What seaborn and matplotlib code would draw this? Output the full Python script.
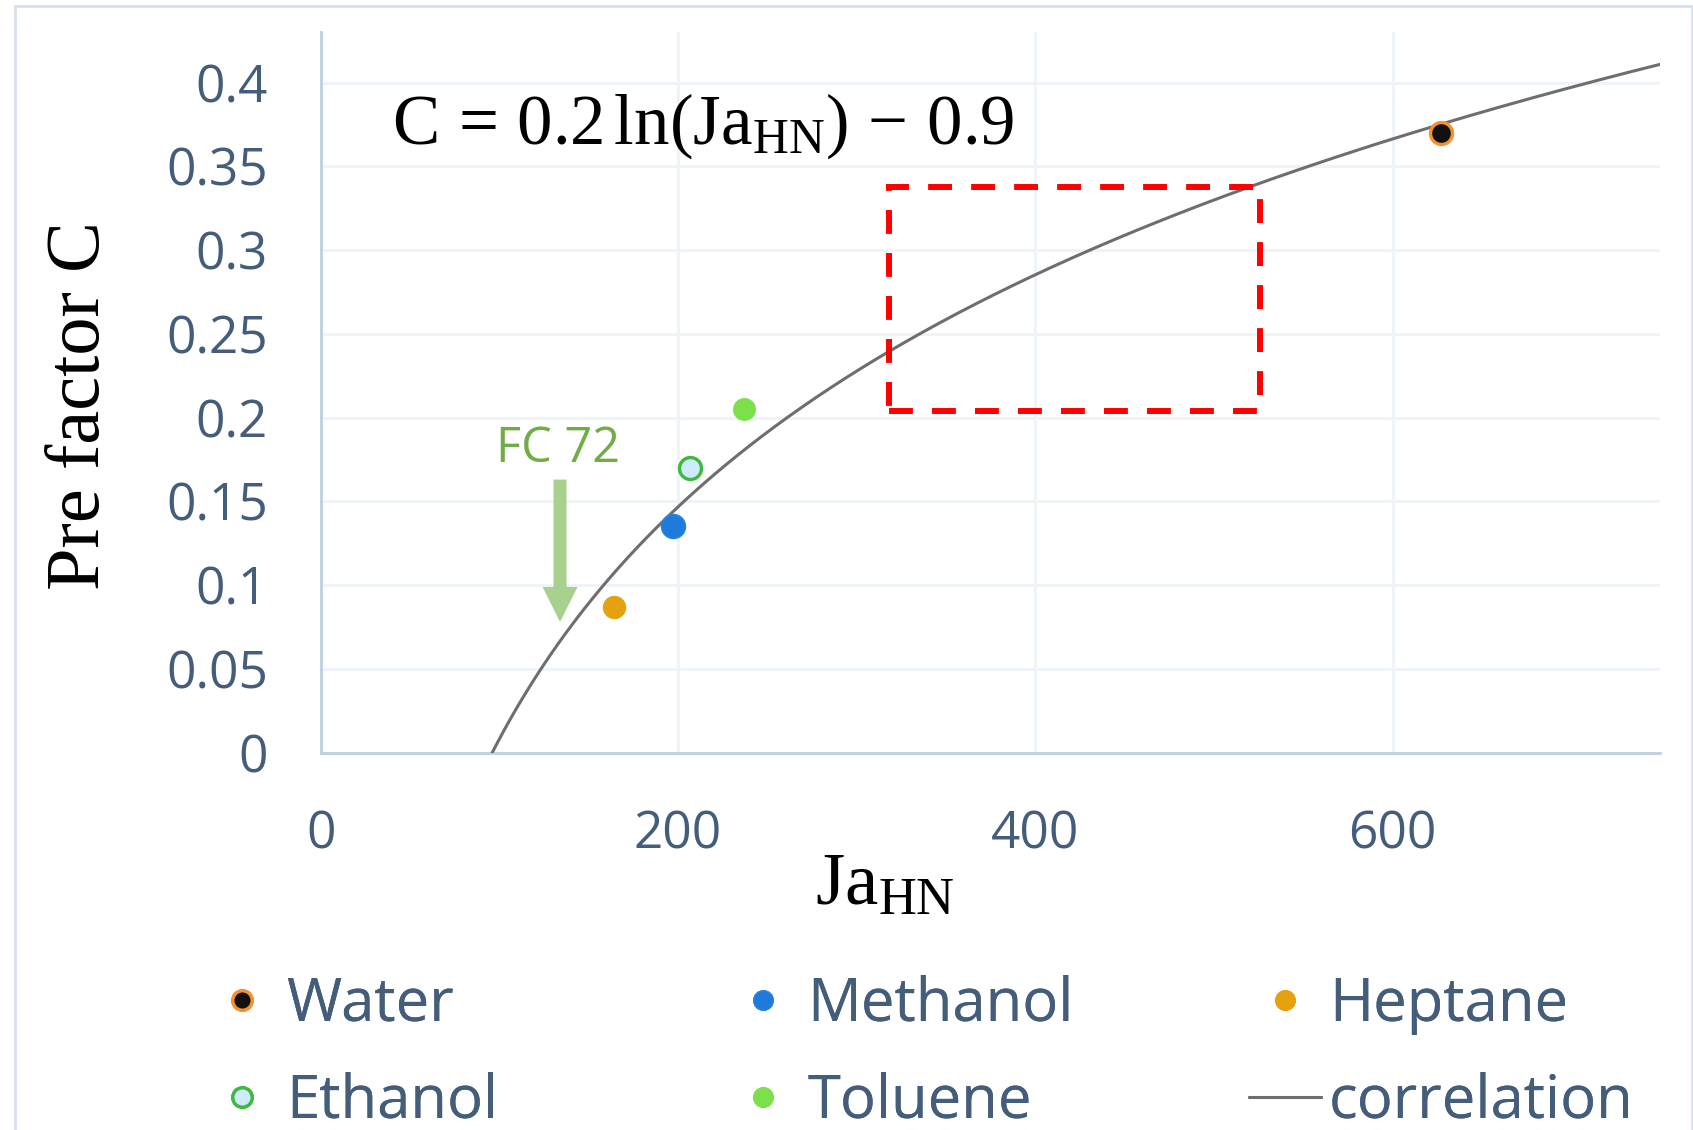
import numpy as np
import pandas as pd
import seaborn as sns
import matplotlib
matplotlib.use("Agg")
import matplotlib.pyplot as plt
from matplotlib.lines import Line2D
from matplotlib.patches import Rectangle

# Measured pre-factor C against the Jakob number Ja_HN for each fluid
fluids = ["Water", "Methanol", "Heptane", "Ethanol", "Toluene"]
ja_hn = [627, 197, 164, 207, 237]
pre_factor = [0.370, 0.135, 0.087, 0.170, 0.205]

# Logarithmic correlation C = a ln(Ja_HN) - b
corr_a = 0.2
corr_b = 0.913

# Highlighted operating window
window_x = [318, 526]
window_y = [0.204, 0.338]

# FC 72 marker position
fc72_x = 134
fc72_arrow_y = [0.163, 0.078]

x_ticks = [0, 200, 400, 600]
y_ticks = [0, 0.05, 0.1, 0.15, 0.2, 0.25, 0.3, 0.35, 0.4]
y_tick_labels = ["0", "0.05", "0.1", "0.15", "0.2", "0.25", "0.3", "0.35", "0.4"]

styles = {
    "Water":    dict(face="#111111", edge="#F7902E", lw=2.4, s=250),
    "Methanol": dict(face="#1E7BDC", edge="#2B82E0", lw=1.0, s=300),
    "Heptane":  dict(face="#E6A20E", edge="#E6A20E", lw=1.0, s=250),
    "Ethanol":  dict(face="#CDEBFA", edge="#3DB93D", lw=2.4, s=250),
    "Toluene":  dict(face="#7BE04C", edge="#7BE04C", lw=1.0, s=240),
}

sns.set_theme(style="white")
plt.rcParams["font.family"] = ["Open Sans", "DejaVu Sans"]
plt.rcParams["mathtext.fontset"] = "custom"
plt.rcParams["mathtext.rm"] = "Liberation Serif"
plt.rcParams["mathtext.it"] = "Liberation Serif:italic"
plt.rcParams["mathtext.bf"] = "Liberation Serif:bold"

TEXT = "#435D7A"
SPINE = "#BFCFE2"
GRID = "#EEF4FA"

fig = plt.figure(figsize=(16.93, 11.30), dpi=100)
ax = fig.add_axes([0.1894, 0.334, 0.7914, 0.6373])

# Correlation curve
x_curve = np.linspace(np.exp(corr_b / corr_a), 760, 400)
curve = pd.DataFrame({"x": x_curve, "C": corr_a * np.log(x_curve) - corr_b})
sns.lineplot(data=curve, x="x", y="C", ax=ax, color="#6E6E6E", lw=2.2,
             legend=False, zorder=3)

# Fluid data points
df = pd.DataFrame({"fluid": fluids, "ja": ja_hn, "C": pre_factor})
for name in fluids:
    st = styles[name]
    sns.scatterplot(data=df[df["fluid"] == name], x="ja", y="C", ax=ax,
                    s=st["s"], color=st["face"], edgecolor=st["edge"],
                    linewidth=st["lw"], legend=False, zorder=4)

ax.set_xlim(0, 750)
ax.set_ylim(0, 0.43)
ax.set_xticks(x_ticks)
ax.set_yticks(y_ticks)
ax.set_yticklabels(y_tick_labels)
ax.tick_params(axis="both", length=0, labelsize=37, labelcolor=TEXT)
ax.tick_params(axis="x", pad=41)
ax.tick_params(axis="y", pad=38)
ax.grid(True, color=GRID, lw=2.2, zorder=0)
ax.set_axisbelow(True)
for side in ["top", "right"]:
    ax.spines[side].set_visible(False)
for side in ["left", "bottom"]:
    ax.spines[side].set_color(SPINE)
    ax.spines[side].set_linewidth(2.0)

# Axis titles
ax.set_xlabel(r"$\mathrm{Ja}_{\mathrm{HN}}$", fontsize=54, color="black")
ax.xaxis.set_label_coords(0.421, -0.184)
ax.xaxis.label.set_va("center")
ax.set_ylabel("Pre factor C", fontsize=55, color="black",
              family="Liberation Serif")
ax.yaxis.set_label_coords(-0.179, 0.4826)
ax.yaxis.label.set_va("center")

# Correlation equation
eq = r"$\mathrm{C}\,=\,%.1f\,\mathrm{ln}(\mathrm{Ja}_{\mathrm{HN}})\,-\,%.1f$" % (corr_a, corr_b)
ax.text(40, 0.3636, eq, fontsize=51, color="black", ha="left", va="baseline")

# Highlight window
ax.add_patch(Rectangle((window_x[0], window_y[0]), window_x[1] - window_x[0],
                       window_y[1] - window_y[0], fill=False, ec="#FF0000",
                       lw=4.3, ls=(0, (4, 3.2)), zorder=5))

# FC 72 annotation with arrow
ax.text(132.8, 0.1811, "FC 72", fontsize=35, color="#70AD47",
        ha="center", va="center")
ax.arrow(fc72_x, fc72_arrow_y[0], 0, fc72_arrow_y[1] - fc72_arrow_y[0],
         width=7.3, head_width=19.6, head_length=0.0209,
         length_includes_head=True, color="#A9D18E", lw=0, zorder=5)

# Legend laid out in three columns below the chart
def marker_handle(name):
    st = styles[name]
    return Line2D([], [], ls="none", marker="o", markersize=14,
                  markerfacecolor=st["face"], markeredgecolor=st["edge"],
                  markeredgewidth=st["lw"], label=name)

corr_handle = Line2D([], [], color="#6E6E6E", lw=2.2, label="correlation")
columns = [
    ([marker_handle("Water"), marker_handle("Ethanol")], 206),
    ([marker_handle("Methanol"), marker_handle("Toluene")], 727),
    ([marker_handle("Heptane"), corr_handle], 1249),
]
for handles, x_left in columns:
    leg = fig.legend(handles=handles, loc="center left",
                     bbox_to_anchor=(x_left / 1693, 0.0678), frameon=False,
                     fontsize=43, handlelength=1.2, handletextpad=0.14,
                     borderpad=0, borderaxespad=0, labelspacing=0.62,
                     labelcolor=TEXT)
    fig.add_artist(leg)

# Chart area border
fig.add_artist(Rectangle((15 / 1693, -0.05), (1692 - 15) / 1693,
                         (1124 / 1130) + 0.05, transform=fig.transFigure,
                         fill=False, ec="#D6E0EE", lw=2.0))

fig.savefig("out.png", dpi=100)
